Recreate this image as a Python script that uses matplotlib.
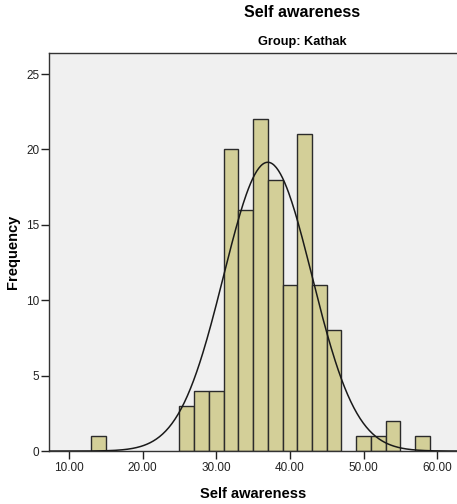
import numpy as np
import matplotlib
matplotlib.use("Agg")
from matplotlib import pyplot as plt

plt.rcParams['font.family'] = ['Liberation Sans', 'DejaVu Sans']

# histogram bins (width 2) and counts
bin_left = [13, 25, 27, 29, 31, 33, 35, 37, 39, 41, 43, 45, 49, 51, 53, 57]
counts = [1, 3, 4, 4, 20, 16, 22, 18, 11, 21, 11, 8, 1, 1, 2, 1]
bin_width = 2
mean = 37.0
std_dev = 6.0
x_ticks = [10, 20, 30, 40, 50, 60]
y_ticks = [0, 5, 10, 15, 20, 25]

fig = plt.figure(figsize=(4.57, 5.04), dpi=100)
ax = fig.add_axes([0.1072, 0.105, 0.893, 0.79])
ax.set_facecolor('#f0f0f0')

ax.bar(bin_left, counts, width=bin_width, align='edge',
       color='#d3cf98', edgecolor='#2b2b2b', linewidth=1.0, zorder=2)

# normal curve scaled to the histogram
n = sum(counts)
xs = np.linspace(7, 63, 400)
ys = n * bin_width / (std_dev * np.sqrt(2 * np.pi)) * np.exp(-0.5 * ((xs - mean) / std_dev) ** 2)
ax.plot(xs, ys, color='#1a1a1a', linewidth=1.1, zorder=3)

ax.set_xlim(7.3, 62.7)
ax.set_ylim(0, 26.4)
ax.set_xticks(x_ticks)
ax.set_xticklabels([f"{v:.2f}" for v in x_ticks])
ax.set_yticks(y_ticks)
ax.tick_params(direction='out', length=6, width=1, labelsize=8.5, colors='#222222')
ax.tick_params(axis='y', pad=1)
ax.tick_params(axis='x', pad=2)

for side in ['left', 'top', 'bottom']:
    ax.spines[side].set_color('#333333')
    ax.spines[side].set_linewidth(1.0)
ax.spines['right'].set_visible(False)

ax.set_xlabel('Self awareness', fontsize=10.5, fontweight='bold', labelpad=9)
ax.set_ylabel('Frequency', fontsize=10.5, fontweight='bold')
ax.yaxis.set_label_coords(-0.071, 0.5)

fig.text(0.661, 0.975, 'Self awareness', ha='center', va='center', fontsize=11.5, fontweight='bold')
fig.text(0.661, 0.917, 'Group: Kathak', ha='center', va='center', fontsize=9.2, fontweight='bold')

fig.savefig('out.png', dpi=100)
